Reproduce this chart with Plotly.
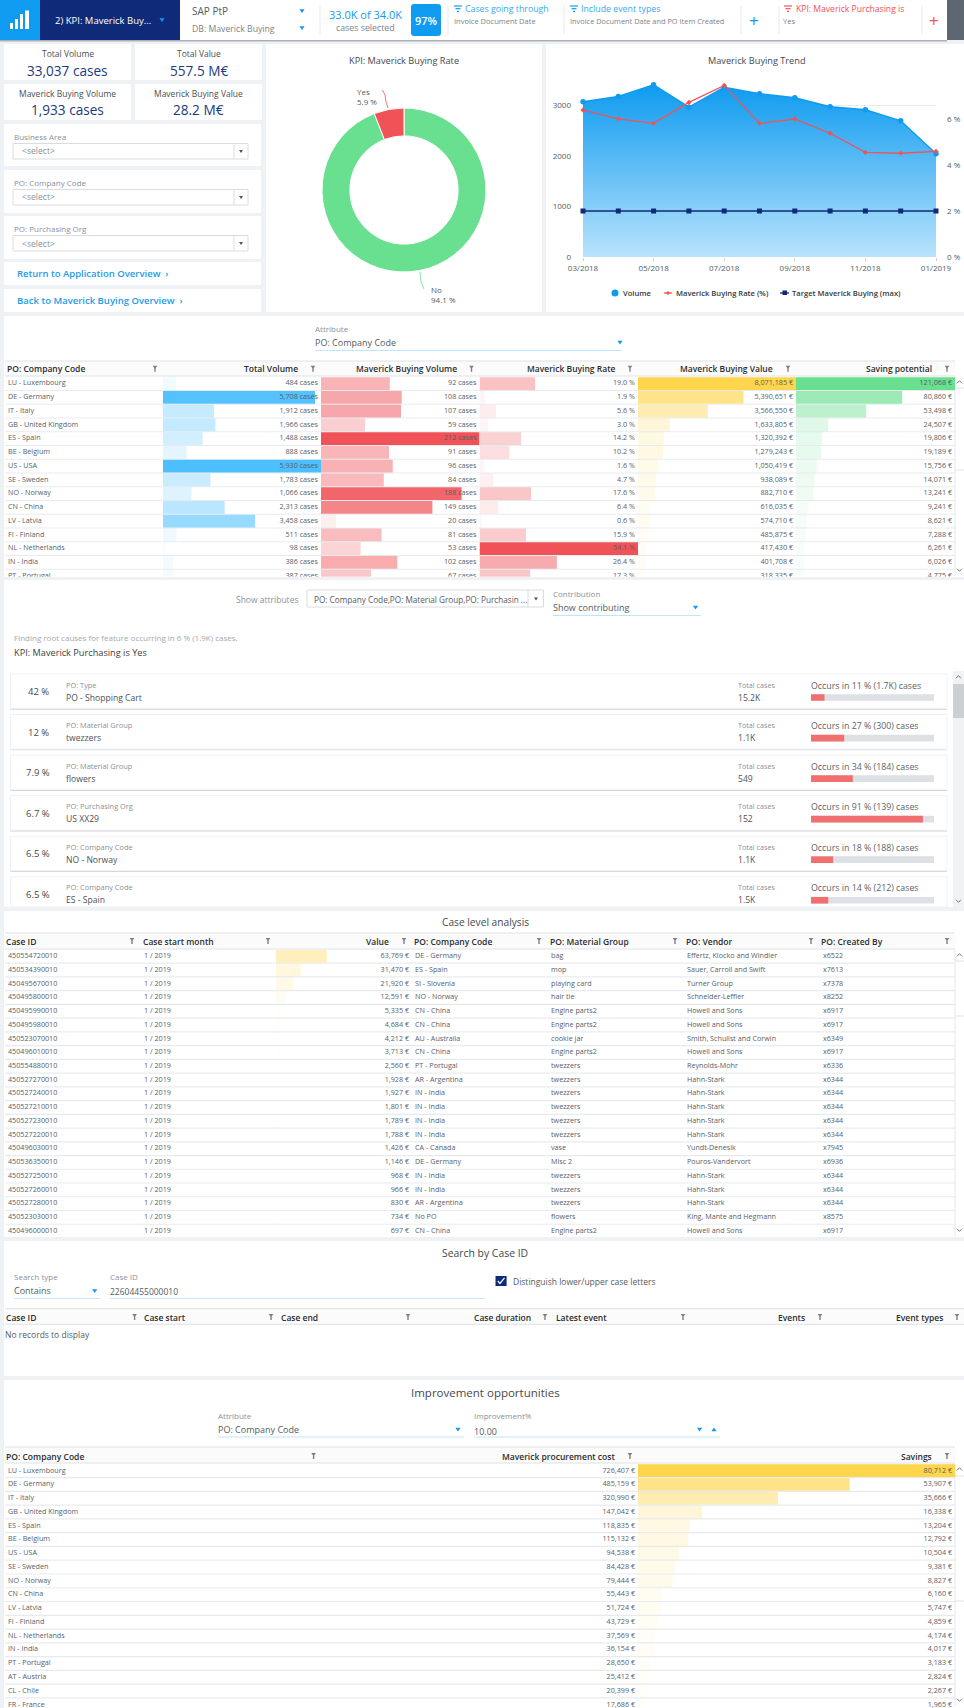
import plotly.graph_objects as go

W, H = 964, 1708
FONT = "Open Sans"

# ---------- data ----------
kpi_titles = ["Total Volume", "Total Value", "Maverick Buying Volume", "Maverick Buying Value"]
kpi_values = ["33,037 cases", "557.5 M€", "1,933 cases", "28.2 M€"]
filter_titles = ["Business Area", "PO: Company Code", "PO: Purchasing Org"]
link_titles = ["Return to Application Overview  ›", "Back to Maverick Buying Overview  ›"]

pie_labels = ["No", "Yes"]
pie_values = [94.1, 5.9]

months = ["03/2018", "04/2018", "05/2018", "06/2018", "07/2018", "08/2018", "09/2018", "10/2018", "11/2018", "12/2018", "01/2019"]
tick_months = ["03/2018", "05/2018", "07/2018", "09/2018", "11/2018", "01/2019"]
rate_ticks = ["0 %", "2 %", "4 %", "6 %"]
volume = [3072, 3178, 3409, 2967, 3363, 3231, 3152, 2974, 2914, 2697, 2044]
rate = [6.39, 6.01, 5.81, 6.72, 7.46, 5.81, 6.0, 5.38, 4.55, 4.51, 4.59]
target = [2.0] * 11

countries = ["LU - Luxembourg", "DE - Germany", "IT - Italy", "GB - United Kingdom", "ES - Spain", "BE - Belgium", "US - USA", "SE - Sweden", "NO - Norway", "CN - China", "LV - Latvia", "FI - Finland", "NL - Netherlands", "IN - India", "PT - Portugal"]
total_vol = [484, 5708, 1912, 1966, 1488, 888, 5930, 1783, 1066, 2313, 3458, 511, 98, 386, 387]
mav_vol = [92, 108, 107, 59, 212, 91, 96, 84, 188, 149, 20, 81, 53, 102, 67]
mav_rate = [19.0, 1.9, 5.6, 3.0, 14.2, 10.2, 1.6, 4.7, 17.6, 6.4, 0.6, 15.9, 54.1, 26.4, 17.3]
mav_value = [8071185, 5390651, 3566550, 1633805, 1320392, 1279243, 1050419, 938089, 882710, 616035, 574710, 485875, 417430, 401708, 318335]
saving = [121068, 80860, 53498, 24507, 19806, 19189, 15756, 14071, 13241, 9241, 8621, 7288, 6261, 6026, 4775]

drv_pct = ["42 %", "12 %", "7.9 %", "6.7 %", "6.5 %", "6.5 %"]
drv_attr = ["PO: Type", "PO: Material Group", "PO: Material Group", "PO: Purchasing Org", "PO: Company Code", "PO: Company Code"]
drv_val = ["PO - Shopping Cart", "twezzers", "flowers", "US XX29", "NO - Norway", "ES - Spain"]
drv_total = ["15.2K", "1.1K", "549", "152", "1.1K", "1.5K"]
drv_occ = [11, 27, 34, 91, 18, 14]
drv_occ_n = ["1.7K", "300", "184", "139", "188", "212"]

case_ids = ["450554720010", "450534390010", "450495670010", "450495800010", "450495990010", "450495980010", "450523070010", "450496010010", "450554880010", "450527270010", "450527240010", "450527210010", "450527230010", "450527220010", "450496030010", "450536350010", "450527250010", "450527260010", "450527280010", "450523030010", "450496000010"]
case_values = [63769, 31470, 21920, 12591, 5335, 4684, 4212, 3713, 2560, 1928, 1927, 1801, 1789, 1788, 1426, 1146, 968, 966, 830, 734, 697]
case_company = ["DE - Germany", "ES - Spain", "SI - Slovenia", "NO - Norway", "CN - China", "CN - China", "AU - Australia", "CN - China", "PT - Portugal", "AR - Argentina", "IN - India", "IN - India", "IN - India", "IN - India", "CA - Canada", "DE - Germany", "IN - India", "IN - India", "AR - Argentina", "No PO", "CN - China"]
case_material = ["bag", "mop", "playing card", "hair tie", "Engine parts2", "Engine parts2", "cookie jar", "Engine parts2", "twezzers", "twezzers", "twezzers", "twezzers", "twezzers", "twezzers", "vase", "Misc 2", "twezzers", "twezzers", "twezzers", "flowers", "Engine parts2"]
case_vendor = ["Effertz, Klocko and Windler", "Sauer, Carroll and Swift", "Turner Group", "Schneider-Leffler", "Howell and Sons", "Howell and Sons", "Smith, Schulist and Corwin", "Howell and Sons", "Reynolds-Mohr", "Hahn-Stark", "Hahn-Stark", "Hahn-Stark", "Hahn-Stark", "Hahn-Stark", "Yundt-Denesik", "Pouros-Vandervort", "Hahn-Stark", "Hahn-Stark", "Hahn-Stark", "King, Mante and Hegmann", "Howell and Sons"]
case_creator = ["x6522", "x7613", "x7378", "x8252", "x6917", "x6917", "x6349", "x6917", "x6336", "x6344", "x6344", "x6344", "x6344", "x6344", "x7945", "x6936", "x6344", "x6344", "x6344", "x8575", "x6917"]
case_month = ["1 / 2019"] * 21

imp_countries = countries + ["AT - Austria", "CL - Chile", "FR - France"]
imp_cost = [726407, 485159, 320990, 147042, 118835, 115132, 94538, 84428, 79444, 55443, 51724, 43729, 37569, 36154, 28650, 25412, 20399, 17686]
imp_savings = [80712, 53907, 35666, 16338, 13204, 12792, 10504, 9381, 8827, 6160, 5747, 4859, 4174, 4017, 3183, 2824, 2267, 1965]

# ---------- colours ----------
BG = "#eef2f5"
NAVY = "#0f2a78"
BLUE = "#0f9bf0"
CBLUE = "#4dbfff"
CRED = "#f05258"
CYEL = "#ffd54c"
CGRN = "#69df90"
TXT = "#5a6066"
HEAD = "#2a2d30"
ROW = "#e8ebee"

fig = go.Figure()
layout = {}
shapes = []
annots = []
_axn = [1]  # axis 1 is reserved for the trend chart


def px(x):
    return x / W


def py(y):
    return 1 - y / H


def rect(x0, y0, x1, y1, fill, line=None, lw=1):
    shapes.append(dict(type="rect", xref="paper", yref="paper", x0=px(x0), x1=px(x1), y0=py(y0), y1=py(y1),
                       fillcolor=fill, line=dict(color=line or fill, width=lw if line else 0), layer="below"))


def line(x0, y0, x1, y1, color, lw=1, layer="below"):
    shapes.append(dict(type="line", xref="paper", yref="paper", x0=px(x0), x1=px(x1), y0=py(y0), y1=py(y1),
                       line=dict(color=color, width=lw), layer=layer))


def path(points, fill=None, color=None, lw=0, closed=True, layer="above"):
    d = "M " + " L ".join(f"{px(a):.5f},{py(b):.5f}" for a, b in points) + (" Z" if closed else "")
    shapes.append(dict(type="path", xref="paper", yref="paper", path=d, fillcolor=fill or "rgba(0,0,0,0)",
                       line=dict(color=color or "rgba(0,0,0,0)", width=lw), layer=layer))


def text(x, y, s, size=8.5, color=TXT, anchor="left", weight=400):
    annots.append(dict(xref="paper", yref="paper", x=px(x), y=py(y), text=s, showarrow=False, xanchor=anchor,
                       yanchor="middle", borderpad=0, borderwidth=0,
                       font=dict(family=FONT, size=size, color=color, weight=weight)))


def caret(x, y, color=BLUE, up=False, s=2.6):
    d = -1 if up else 1
    path([(x - s, y - d * s * 0.7), (x + s, y - d * s * 0.7), (x, y + d * s * 0.8)], fill=color)


def funnel(x, y, color="#7b8085"):
    path([(x - 2.4, y - 3), (x + 2.4, y - 3), (x + 0.7, y - 0.8), (x + 0.7, y + 3), (x - 0.7, y + 3), (x - 0.7, y - 0.8)], fill=color)


def chevron(x, y, up=True, color="#555"):
    d = -1 if up else 1
    path([(x - 2.5, y - d * 1.3), (x, y + d * 1.3), (x + 2.5, y - d * 1.3)], color=color, lw=0.8, closed=False)


def filter_lines(x, y, color):
    line(x, y, x + 8, y, color, 1.2, "above")
    line(x + 1.5, y + 2.7, x + 6.5, y + 2.7, color, 1.2, "above")
    line(x + 3, y + 5.4, x + 5, y + 5.4, color, 1.2, "above")


def new_x(x0, x1, rng):
    _axn[0] += 1
    n = _axn[0]
    layout[f"xaxis{n}"] = dict(domain=[px(x0), px(x1)], range=rng, visible=False, fixedrange=True, anchor=f"y{n}", automargin=False)
    return n


def new_y(n, first_center, rh, clip_y):
    # axis of row numbers: row 0 is centred on first_center and rows grow downwards
    top = first_center - rh / 2
    layout[f"yaxis{n}"] = dict(domain=[py(clip_y), py(top)], range=[(clip_y - first_center) / rh, -0.5],
                               visible=False, fixedrange=True, anchor=f"x{n}", automargin=False)
    return n


def text_col(n, xv, labels, side="right", color=TXT, size=7.2):
    fig.add_trace(go.Scatter(x=[xv] * len(labels), y=list(range(len(labels))), text=labels, mode="text",
                             textposition=f"middle {side}", xaxis=f"x{n}", yaxis=f"y{n}", hoverinfo="skip", showlegend=False,
                             textfont=dict(family=FONT, size=size, color=color)))


def bar_col(x0, x1, y0, rh, clip, vals, color, labels, vmax=None, min_op=0.05):
    vmax = vmax or max(vals)
    n = new_x(x0, x1, [0, vmax])
    new_y(n, y0, rh, clip)
    fig.add_trace(go.Bar(x=vals, y=list(range(len(vals))), orientation="h", width=0.92, xaxis=f"x{n}", yaxis=f"y{n}",
                         marker=dict(color=color, opacity=[max(min_op, v / vmax) for v in vals], line=dict(width=0)),
                         hoverinfo="skip", showlegend=False))
    text_col(n, vmax * (1 - 3 / (x1 - x0)), labels, "left")


def plain_col(x0, x1, y0, rh, clip, labels, side="right"):
    n = new_x(x0, x1, [0, 1])
    new_y(n, y0, rh, clip)
    inset = 3 / (x1 - x0)
    text_col(n, inset if side == "right" else 1 - inset, labels, side)


def header(y0, y1, x0=5, x1=955):
    rect(x0, y0, x1, y1, "#fbfbfb")
    line(x0, y0, x1, y0, "#dfe2e5", 1)
    line(x0, y1, x1, y1, "#dfe2e5", 1)


def hcell(x, y, s, icon, anchor="left"):
    text(x, y, s, 8.5, HEAD, anchor, 600)
    funnel(icon, y)


def separators(y0, rh, nrows, clip, x0=5, x1=955):
    for i in range(nrows):
        yy = y0 + rh * (i + 0.5)
        if yy < clip:
            line(x0, yy, x1, yy, ROW, 1.2)


def scrollbar(x0, x1, y_top, y_bot, t0, t1):
    line(x0, y_top, x0, y_bot, "#e4e6e9", 1)
    line(x0, t0, x1, t0, "#dfe2e5", 1)
    line(x0, t1, x1, t1, "#dfe2e5", 1)
    chevron((x0 + x1) / 2, y_top + 5, True)
    chevron((x0 + x1) / 2, y_bot - 6, False)


# ---------- top bar ----------
rect(0, 0, 964, 40, "#5d6772")
rect(0, 40, 947, 41.5, "#aab0b6")
rect(0, 0, 40, 40, BLUE)
rect(40, 0, 180, 40, NAVY)
rect(180, 0, 947, 40, "#ffffff")
for bx0, bx1, bt in [(10, 13, 23), (15, 18, 19), (20, 23, 14), (25, 29, 10.5)]:
    rect(bx0, bt, bx1, 29, "#ffffff")
text(55, 20.5, "2) KPI: Maverick Buy...", 9.5, "#ffffff")
caret(162, 20, BLUE)
text(192, 11.5, "SAP PtP", 10, "#555b61")
text(192, 29, "DB: Maverick Buying", 8.7, "#7d8389")
caret(302, 11)
caret(302, 28)
text(365, 14, "33.0K of 34.0K", 11, BLUE, "center")
text(365, 28, "cases selected", 8.8, "#7d8389", "center")
shapes.append(dict(type="path", xref="paper", yref="paper", layer="below", fillcolor=BLUE, line=dict(width=0),
                   path="M %f,%f L %f,%f Q %f,%f %f,%f L %f,%f Q %f,%f %f,%f L %f,%f Q %f,%f %f,%f L %f,%f Q %f,%f %f,%f Z" % (
                       px(414), py(4), px(438), py(4), px(441), py(4), px(441), py(7), px(441), py(33), px(441), py(36), px(438), py(36),
                       px(414), py(36), px(411), py(36), px(411), py(33), px(411), py(7), px(411), py(4), px(414), py(4))))
text(426, 20.5, "97%", 11, "#ffffff", "center", 600)
for sx in [320, 448, 564, 741, 779, 922]:
    line(sx, 6, sx, 34, "#e6e9ec", 1)
filter_lines(454, 6, BLUE)
filter_lines(570, 6, BLUE)
filter_lines(784, 6, CRED)
text(465, 9.5, "Cases going through", 8.8, "#3aa9f2")
text(454, 21, "Invoice Document Date", 7.5, "#7d8389")
text(581, 9.5, "Include event types", 8.8, "#3aa9f2")
text(570, 21, "Invoice Document Date and PO Item Created", 7.4, "#7d8389")
text(796, 9.5, "KPI: Maverick Purchasing is", 8.6, CRED)
text(783, 21, "Yes", 7.5, "#7d8389")
text(754, 20, "+", 17, BLUE, "center")
text(934, 20, "+", 17, CRED, "center")

# ---------- left column ----------
for i, (x0, y0) in enumerate([(4, 44), (135, 44), (4, 84), (135, 84)]):
    rect(x0, y0, x0 + 127, y0 + 36, "#ffffff")
    text(x0 + 63.5, y0 + 9.5, kpi_titles[i], 8.5, "#4a4f55", "center")
    text(x0 + 63.5, y0 + 26, kpi_values[i], 13.6, "#1b3a80", "center")
for (y0, y1), t in zip([(124, 166), (170, 213), (216, 259)], filter_titles):
    rect(4, y0, 261, y1, "#ffffff")
    text(13.5, y0 + 12.5, t, 8, "#8b9197")
    rect(13, y0 + 19.5, 248, y0 + 35, "#ffffff", "#d9dce0")
    line(234, y0 + 19.5, 234, y0 + 35, "#d9dce0", 1)
    text(22, y0 + 27.5, "<select>", 8.6, "#8b9197")
    caret(241, y0 + 27.5, "#555", s=2)
for (y0, y1), t in zip([(262, 285), (289, 312)], link_titles):
    rect(4, y0, 261, y1, "#ffffff")
    text(16.5, (y0 + y1) / 2, t, 9.5, "#1c9bec", weight=600)

# ---------- donut ----------
rect(266, 44, 542, 312, "#ffffff")
text(404, 60, "KPI: Maverick Buying Rate", 9.2, "#44494e", "center")
fig.add_trace(go.Pie(labels=pie_labels, values=pie_values, sort=False, direction="clockwise", rotation=0, hole=0.66,
                     marker=dict(colors=[CGRN, CRED], line=dict(color="#ffffff", width=1)), textinfo="none", hoverinfo="skip",
                     showlegend=False, domain=dict(x=[px(322), px(486)], y=[py(272), py(108)])))
text(363, 92, pie_labels[1], 8, "#555b61", "center")
text(367, 102, f"{pie_values[1]} %", 8, "#555b61", "center")
text(436, 290, pie_labels[0], 8, "#555b61", "center")
text(443, 300, f"{pie_values[0]} %", 8, "#555b61", "center")
path([(382.5, 90), (385, 95), (386, 102), (388, 108)], color=CRED, lw=0.8, closed=False)
path([(420, 272), (421, 282), (424, 289)], color=CGRN, lw=0.8, closed=False)

# ---------- trend ----------
rect(546, 44, 964, 312, "#ffffff")
text(757, 60, "Maverick Buying Trend", 9.2, "#44494e", "center")
T_TOP, T_BOT = 80, 257
layout["xaxis"] = dict(domain=[px(583), px(936)], range=[0, 10], type="linear", tickvals=[0, 2, 4, 6, 8, 10], ticktext=tick_months,
                       showgrid=False, zeroline=False, ticks="outside", ticklen=3, tickcolor="#ccd0d4", showline=False, automargin=False,
                       tickfont=dict(family=FONT, size=8, color="#555b61"), anchor="y", fixedrange=True)
layout["yaxis"] = dict(domain=[py(T_BOT), py(T_TOP)], range=[0, (T_BOT - T_TOP) / 50.5 * 1000], tickvals=[0, 1000, 2000, 3000],
                       showgrid=True, gridcolor="#e9ecef", zeroline=False, tickfont=dict(family=FONT, size=8, color="#555b61"),
                       ticklabelstandoff=11, anchor="x", fixedrange=True, automargin=False)
layout["yaxis100"] = dict(domain=[py(T_BOT), py(T_TOP)], range=[0, (T_BOT - T_TOP) / 23.0], tickvals=[0, 2, 4, 6], ticktext=rate_ticks,
                          overlaying="y", side="right", showgrid=False, zeroline=False, automargin=False,
                          tickfont=dict(family=FONT, size=8, color="#555b61"), ticklabelstandoff=10, anchor="x", fixedrange=True)
mi = list(range(len(months)))
fig.add_trace(go.Scatter(x=mi, y=volume, name="Volume", mode="lines+markers", fill="tozeroy",
                         fillgradient=dict(type="vertical", colorscale=[[0, "#b8e3fc"], [1, "#0e9bf0"]]),
                         line=dict(color=BLUE, width=1.5), marker=dict(color=BLUE, size=5.5), cliponaxis=False,
                         hoverinfo="skip", showlegend=False))
fig.add_trace(go.Scatter(x=mi, y=target, name="Target Maverick Buying (max)", mode="lines+markers", yaxis="y100",
                         line=dict(color=NAVY, width=1.5), marker=dict(color=NAVY, size=5, symbol="square"), cliponaxis=False,
                         hoverinfo="skip", showlegend=False))
fig.add_trace(go.Scatter(x=mi, y=rate, name="Maverick Buying Rate (%)", mode="lines+markers", yaxis="y100",
                         line=dict(color=CRED, width=1.3), marker=dict(color=CRED, size=4, symbol="diamond"), cliponaxis=False,
                         hoverinfo="skip", showlegend=False))
shapes.append(dict(type="circle", xref="paper", yref="paper", x0=px(611.5), x1=px(618.5), y0=py(296.5), y1=py(289.5),
                   fillcolor=BLUE, line=dict(width=0)))
text(623, 293, "Volume", 7.6, "#33383d", weight=600)
line(664, 293, 672, 293, CRED, 1.3, "above")
path([(668, 291), (670, 293), (668, 295), (666, 293)], fill=CRED)
text(676, 293, "Maverick Buying Rate (%)", 7.6, "#33383d", weight=600)
line(780, 293, 789, 293, NAVY, 1.3, "above")
rect(782.5, 290.5, 787, 295, NAVY)
text(792, 293, "Target Maverick Buying (max)", 7.6, "#33383d", weight=600)

# ---------- main table ----------
rect(4, 316, 964, 577, "#ffffff")
text(315, 328, "Attribute", 8, "#8b9197")
text(315, 342.5, "PO: Company Code", 9, "#555b61")
caret(620, 342.5)
line(315, 350.5, 622, 350.5, "#bfe6fb", 1)
M_E = [5, 163, 321, 479.5, 638, 796, 955]
header(361, 376)
hy = 368.7
hcell(7, hy, "PO: Company Code", 155)
for k, t in enumerate(["Total Volume", "Maverick Buying Volume", "Maverick Buying Rate", "Maverick Buying Value", "Saving potential"]):
    hcell(M_E[k + 2] - 23, hy, t, M_E[k + 2] - 8, "right")
M0, MR, MC = 383.6, 13.75, 576.7
separators(M0, MR, 15, MC)
plain_col(M_E[0], M_E[1], M0, MR, MC, countries)
m_cols = [(total_vol, CBLUE, "{:,} cases"), (mav_vol, CRED, "{:,} cases"), (mav_rate, CRED, "{:.1f} %"), (mav_value, CYEL, "{:,} €"), (saving, CGRN, "{:,} €")]
for k, (vals, col, fmt) in enumerate(m_cols):
    bar_col(M_E[k + 1], M_E[k + 2], M0, MR, MC, vals, col, [fmt.format(v) for v in vals])
scrollbar(955, 964, 377, 576, 388, 470)

# ---------- root causes ----------
rect(4, 580, 964, 907, "#ffffff")
text(236, 599, "Show attributes", 8.5, "#8b9197")
rect(307, 590, 543.5, 607, "#ffffff", "#d9dce0")
line(528, 590, 528, 607, "#d9dce0", 1)
caret(536, 599, "#555", s=2)
text(314, 599.5, "PO: Company Code,PO: Material Group,PO: Purchasin ...", 8.2, "#555b61")
text(553, 593, "Contribution", 8, "#8b9197")
text(553, 607, "Show contributing", 9, "#555b61")
caret(695.5, 607.5)
line(553, 615.5, 701, 615.5, "#bfe6fb", 1)
text(14, 637, "Finding root causes for feature occurring in 6 % (1.9K) cases.", 8, "#a3a9ae")
text(14, 652.7, "KPI: Maverick Purchasing is Yes", 9.2, "#3a3f44")
D0, DR = 697.5, 40.55
for k in range(6):
    top = 674 + DR * k
    bot = min(top + 34.6, 907)
    if bot < 907:
        rect(10.5, top, 947, bot + 1.2, "#cfd3d7")
    rect(10.5, top, 947, bot, "#ffffff", "#eef0f2", 0.8)
    text(38, top + 17.5, drv_pct[k], 9.5, "#44494e", "center")
    text(66, top + 10.5, drv_attr[k], 7.4, "#8b9197")
    text(66, top + 23.5, drv_val[k], 8.6, "#4d5257")
    text(738, top + 10.5, "Total cases", 7.2, "#8b9197")
    text(738, top + 23.5, drv_total[k], 8.6, "#4d5257")
    text(811, top + 11.5, f"Occurs in {drv_occ[k]} % ({drv_occ_n[k]}) cases", 8.8, "#5d6368")
n = new_x(811, 934, [0, 100])
new_y(n, D0, DR, 907)
fig.add_trace(go.Bar(x=[100] * 6, y=list(range(6)), orientation="h", width=0.165, xaxis=f"x{n}", yaxis=f"y{n}",
                     marker=dict(color="#dde1e5", line=dict(width=0)), hoverinfo="skip", showlegend=False))
fig.add_trace(go.Bar(x=drv_occ, y=list(range(6)), orientation="h", width=0.165, xaxis=f"x{n}", yaxis=f"y{n}",
                     marker=dict(color="#f07070", line=dict(width=0)), hoverinfo="skip", showlegend=False))
rect(953, 671, 964, 907, "#f1f2f4")
rect(953, 684, 964, 718, "#cdd0d3")
chevron(958.5, 677, True)
chevron(958.5, 901, False)

# ---------- case table ----------
rect(4, 911, 964, 1237, "#ffffff")
text(485, 922.5, "Case level analysis", 10.2, "#44494e", "center")
C_E = [5, 141, 276, 412, 548, 684, 820, 955]
header(933, 949)
hy = 941
for x, t, ic in [(6, "Case ID", 132), (142.6, "Case start month", 268), (413.8, "PO: Company Code", 539), (550, "PO: Material Group", 675), (685.5, "PO: Vendor", 811), (821, "PO: Created By", 947)]:
    hcell(x, hy, t, ic)
hcell(388.6, hy, "Value", 404, "right")
C0, CR, CC = 956.3, 13.74, 1237
separators(C0, CR, 21, CC)
plain_col(C_E[0], C_E[1], C0, CR, CC, case_ids)
plain_col(C_E[1], C_E[2], C0, CR, CC, case_month)
bar_col(C_E[2], C_E[3], C0, CR, CC, case_values, CYEL, [f"{v:,} €" for v in case_values], vmax=171000, min_op=0.02)
plain_col(C_E[3], C_E[4], C0, CR, CC, case_company)
plain_col(C_E[4], C_E[5], C0, CR, CC, case_material)
plain_col(C_E[5], C_E[6], C0, CR, CC, case_vendor)
plain_col(C_E[6], C_E[7], C0, CR, CC, case_creator)
scrollbar(955, 964, 950, 1236, 961, 1016)

# ---------- search ----------
rect(4, 1241, 964, 1376, "#ffffff")
text(485, 1253, "Search by Case ID", 10.4, "#44494e", "center")
text(14, 1276.5, "Search type", 8, "#8b9197")
text(14, 1290.5, "Contains", 9, "#555b61")
caret(94.7, 1291)
line(14, 1298.5, 100, 1298.5, "#bfe6fb", 1)
text(110, 1276.5, "Case ID", 8, "#8b9197")
text(110, 1291, "22604455000010", 8.5, "#555b61")
line(110, 1298.5, 485, 1298.5, "#bfe6fb", 1)
rect(495.5, 1276, 506.6, 1286, NAVY)
path([(497.8, 1281), (500, 1283.5), (504.5, 1278)], color="#ffffff", lw=1.2, closed=False)
text(513, 1281, "Distinguish lower/upper case letters", 8.5, "#555b61")
header(1308.7, 1324.3, 5, 964)
hy = 1317
for x, t, ic in [(6, "Case ID", 134.6), (144, "Case start", 271), (281, "Case end", 408), (555.5, "Latest event", 683)]:
    hcell(x, hy, t, ic)
for x, t, ic in [(530.6, "Case duration", 545), (805, "Events", 820), (942.5, "Event types", 957)]:
    hcell(x, hy, t, ic, "right")
text(5, 1334.7, "No records to display", 8.5, "#555b61")

# ---------- improvement ----------
rect(4, 1380, 964, 1708, "#ffffff")
text(485, 1392, "Improvement opportunities", 11.5, "#44494e", "center")
text(218, 1415, "Attribute", 8, "#8b9197")
text(218, 1429.5, "PO: Company Code", 9, "#555b61")
caret(458, 1429.5)
line(218, 1437, 464, 1437, "#bfe6fb", 1)
text(474, 1415, "Improvement%", 8, "#8b9197")
text(474, 1431, "10.00", 9, "#555b61")
caret(699.6, 1429.5)
caret(714, 1429.5, up=True)
line(474, 1437, 720, 1437, "#bfe6fb", 1)
header(1447, 1463)
hy = 1456
hcell(6, hy, "PO: Company Code", 313.6)
hcell(615, hy, "Maverick procurement cost", 630, "right")
hcell(931.5, hy, "Savings", 947, "right")
I0, IR, IC = 1470.7, 13.77, 1708
separators(I0, IR, 18, IC)
plain_col(5, 321, I0, IR, IC, imp_countries)
plain_col(321, 638, I0, IR, IC, [f"{v:,} €" for v in imp_cost], "left")
bar_col(638, 955, I0, IR, IC, imp_savings, CYEL, [f"{v:,} €" for v in imp_savings], min_op=0.03)
scrollbar(955, 964, 1464, 1706, 1476, 1601)

fig.update_layout(width=W, height=H, margin=dict(l=0, r=0, t=0, b=0, autoexpand=False), paper_bgcolor=BG, plot_bgcolor="rgba(0,0,0,0)",
                  barmode="overlay", showlegend=False, hovermode=False, font=dict(family=FONT),
                  shapes=shapes, annotations=annots, **layout)
fig.write_html("out.html", config=dict(displayModeBar=False), post_script="document.body.style.margin='0';")
